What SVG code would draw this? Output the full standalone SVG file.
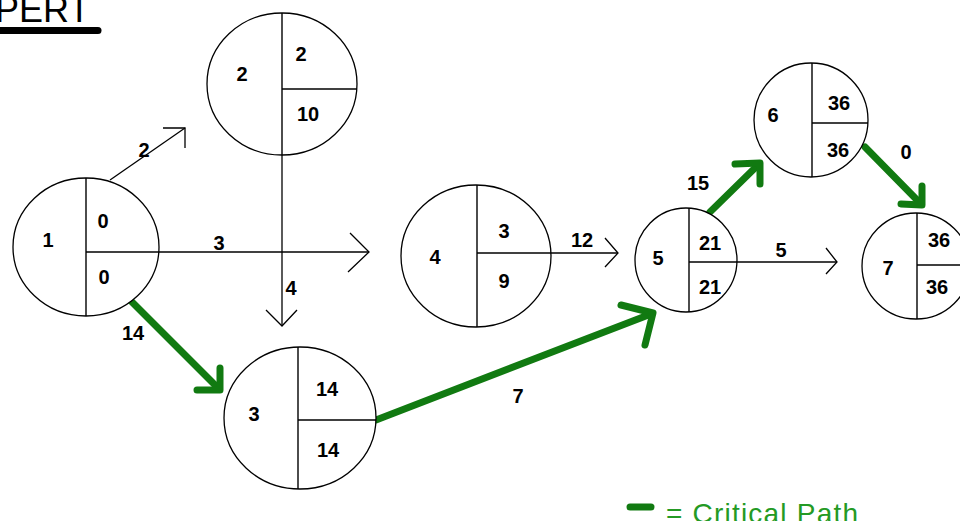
<svg xmlns="http://www.w3.org/2000/svg" width="960" height="521" viewBox="0 0 960 521">
<style>
.node{fill:#fff;stroke:#000;stroke-width:1.3}
.div{stroke:#000;stroke-width:1.4;fill:none}
.num{font-family:"Liberation Sans",Arial,sans-serif;font-weight:bold;font-size:20px;fill:#000;text-anchor:middle}
.arr{stroke:#000;stroke-width:1.3;fill:none}
.crit{stroke:#117a11;stroke-width:7;fill:none;stroke-linecap:round;stroke-linejoin:round}
.title{font-family:"Liberation Sans",Arial,sans-serif;font-size:36px;fill:#000}
.legend{font-family:"Liberation Sans",Arial,sans-serif;font-size:28px;fill:#249a24}
</style>
<rect width="960" height="521" fill="#fff"/>
<g id="title">
<text class="title" x="-5" y="22">PERT</text>
<path d="M0 27 H98 A3.5 3.5 0 0 1 98 34 H0 Z" fill="#000"/>
</g>
<g id="connectors">
<!-- 1 -> 2 (2) -->
<line class="arr" x1="110" y1="180" x2="185" y2="128"/>
<polyline class="arr" points="163,128 185,128 185,148"/>
<!-- 1 -> 4 (3) -->
<line class="arr" x1="159" y1="252" x2="369" y2="252"/>
<polyline class="arr" points="350,233 369,252 348,272"/>
<!-- 2 -> 3 (4) -->
<line class="arr" x1="282" y1="155" x2="282" y2="326"/>
<polyline class="arr" points="266,310 282,326 297,310"/>
<!-- 4 -> 5 (12) -->
<line class="arr" x1="551" y1="253" x2="618" y2="253"/>
<polyline class="arr" points="605,238 618,253 605,267"/>
<!-- 5 -> 7 (5) -->
<line class="arr" x1="737" y1="262" x2="837" y2="262"/>
<polyline class="arr" points="826,248 837,262 826,274"/>
<!-- critical path -->
<line class="crit" x1="130" y1="300" x2="217" y2="387"/>
<polyline class="crit" points="220,368 220,390 197,390"/>
<line class="crit" x1="376" y1="420" x2="651" y2="314"/>
<polyline class="crit" points="621,305 653,313 645,345"/>
<line class="crit" x1="710" y1="212" x2="758" y2="165"/>
<polyline class="crit" points="735,164 760,163 760,184"/>
<line class="crit" x1="865" y1="147" x2="920" y2="203"/>
<polyline class="crit" points="922,186 922,205 901,204"/>
</g>
<g id="edge-labels">
<text class="num" x="144" y="157">2</text>
<text class="num" x="219" y="250">3</text>
<text class="num" x="291" y="295">4</text>
<text class="num" x="133" y="340">14</text>
<text class="num" x="518" y="403">7</text>
<text class="num" x="582" y="247">12</text>
<text class="num" x="698" y="190">15</text>
<text class="num" x="781" y="257">5</text>
<text class="num" x="906" y="159">0</text>
</g>
<g id="node1">
<ellipse class="node" cx="86" cy="247" rx="73" ry="69"/>
<line class="div" x1="86" y1="178" x2="86" y2="316"/>
<line class="div" x1="86" y1="252" x2="159" y2="252"/>
<text class="num" x="48" y="247">1</text>
<text class="num" x="103" y="228">0</text>
<text class="num" x="104" y="284">0</text>
</g>
<g id="node2">
<ellipse class="node" cx="282" cy="84" rx="75" ry="71"/>
<line class="div" x1="282" y1="13" x2="282" y2="155"/>
<line class="div" x1="282" y1="89" x2="357" y2="89"/>
<text class="num" x="242" y="81">2</text>
<text class="num" x="301" y="61">2</text>
<text class="num" x="308" y="121">10</text>
</g>
<g id="node3">
<ellipse class="node" cx="300" cy="418" rx="76" ry="71"/>
<line class="div" x1="298" y1="347" x2="298" y2="489"/>
<line class="div" x1="298" y1="420" x2="376" y2="420"/>
<text class="num" x="254" y="421">3</text>
<text class="num" x="327" y="396">14</text>
<text class="num" x="328" y="457">14</text>
</g>
<g id="node4">
<ellipse class="node" cx="476" cy="256" rx="75" ry="71"/>
<line class="div" x1="477" y1="185" x2="477" y2="327"/>
<line class="div" x1="477" y1="253" x2="551" y2="253"/>
<text class="num" x="435" y="264">4</text>
<text class="num" x="504" y="238">3</text>
<text class="num" x="504" y="288">9</text>
</g>
<g id="node5">
<ellipse class="node" cx="686" cy="260" rx="51" ry="52"/>
<line class="div" x1="689" y1="208" x2="689" y2="312"/>
<line class="div" x1="689" y1="262" x2="737" y2="262"/>
<text class="num" x="658" y="265">5</text>
<text class="num" x="710" y="250">21</text>
<text class="num" x="710" y="294">21</text>
</g>
<g id="node6">
<ellipse class="node" cx="811" cy="120" rx="57" ry="57"/>
<line class="div" x1="812" y1="63" x2="812" y2="177"/>
<line class="div" x1="812" y1="123" x2="868" y2="123"/>
<text class="num" x="773" y="122">6</text>
<text class="num" x="839" y="110">36</text>
<text class="num" x="838" y="157">36</text>
</g>
<g id="node7">
<ellipse class="node" cx="916" cy="266" rx="54" ry="53"/>
<line class="div" x1="917" y1="213" x2="917" y2="319"/>
<line class="div" x1="917" y1="265" x2="970" y2="265"/>
<text class="num" x="888" y="275">7</text>
<text class="num" x="939" y="247">36</text>
<text class="num" x="937" y="294">36</text>
</g>
<g id="legend">
<line class="crit" x1="630" y1="507" x2="651" y2="507"/>
<text class="legend" x="666" y="523" textLength="192" lengthAdjust="spacing">= Critical Path</text>
</g>
</svg>
